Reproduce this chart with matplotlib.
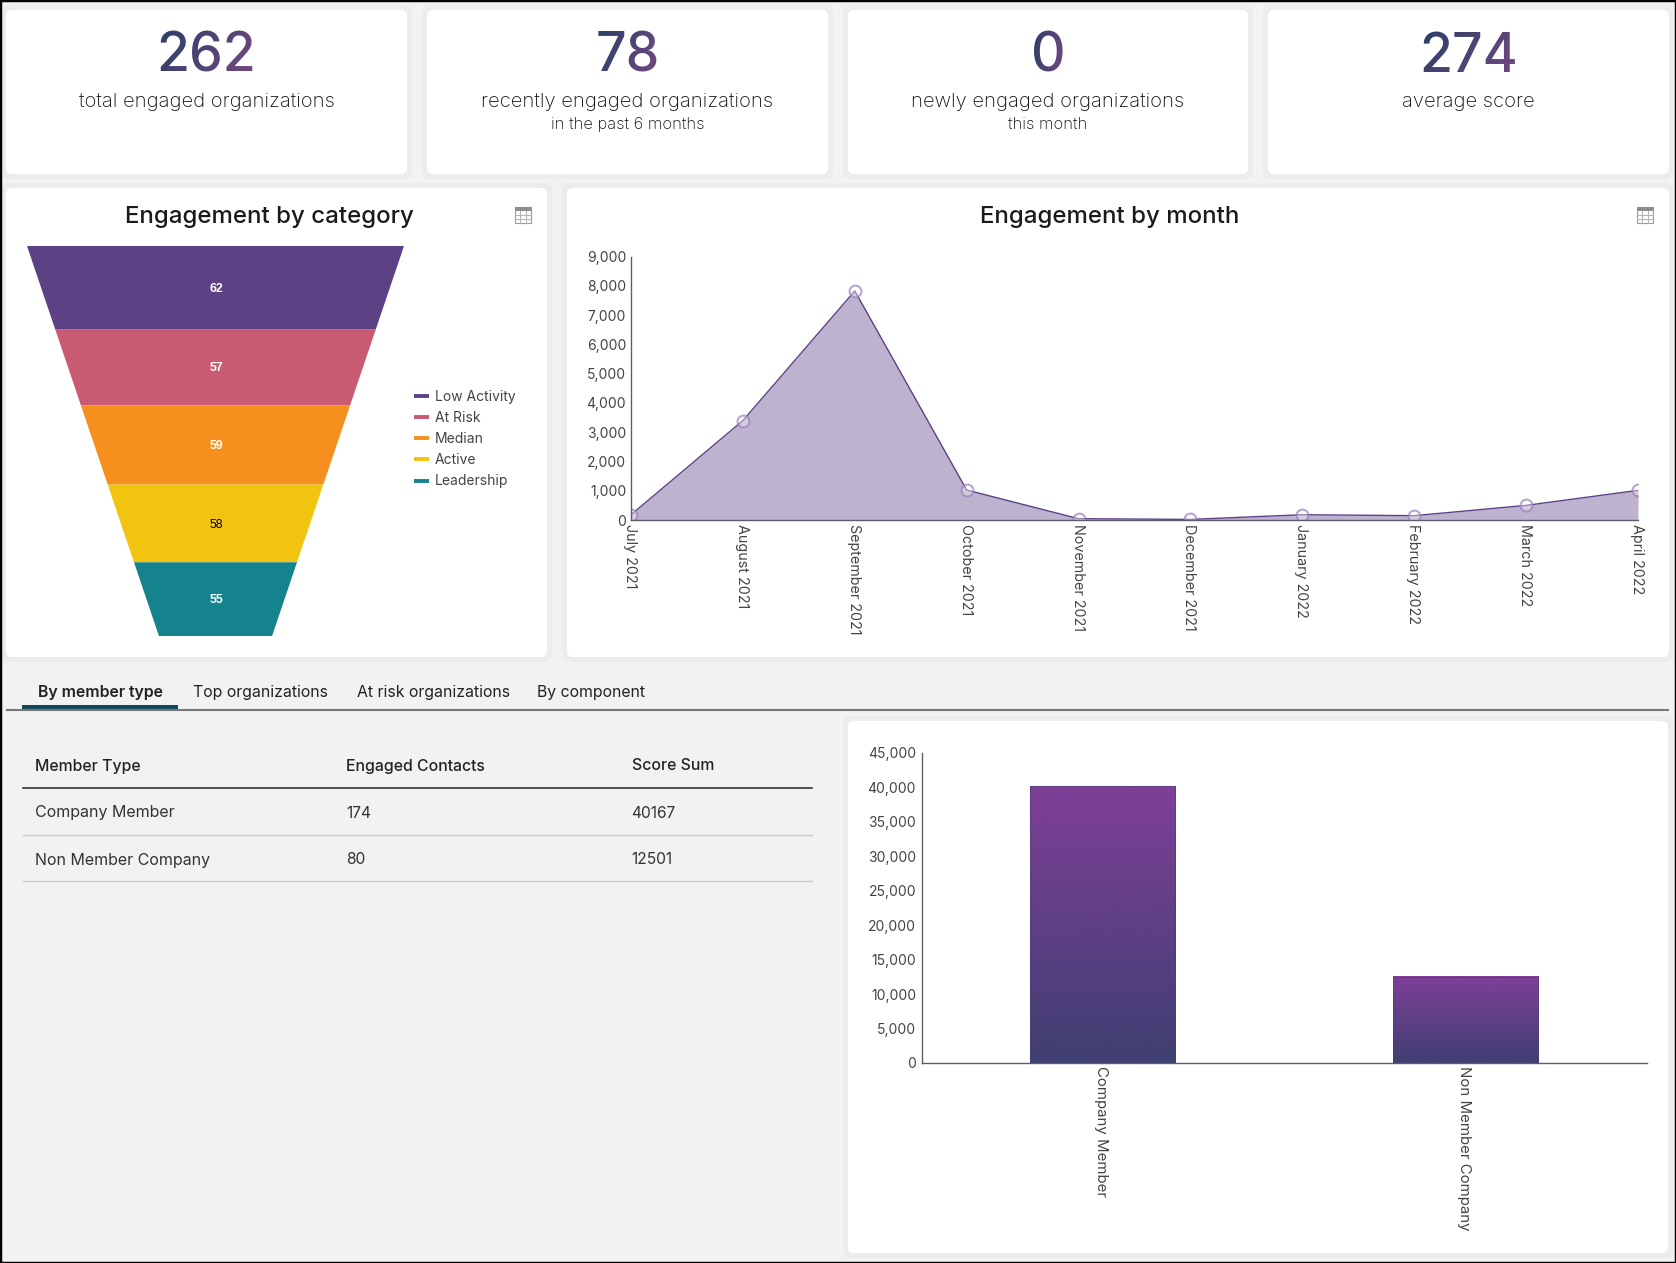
import numpy as np
import matplotlib
matplotlib.use("Agg")
import matplotlib.pyplot as plt
from matplotlib.patches import FancyBboxPatch, Rectangle
from matplotlib.lines import Line2D
from matplotlib.colors import LinearSegmentedColormap
from matplotlib.transforms import ScaledTranslation

plt.rcParams['font.family'] = ['Inter', 'DejaVu Sans']

# Summary cards
card_numbers = ['262', '78', '0', '274']
card_labels = ['total engaged organizations', 'recently engaged organizations',
               'newly engaged organizations', 'average score']
card_notes = ['', 'in the past 6 months', 'this month', '']

# Funnel
funnel_names = ['Low Activity', 'At Risk', 'Median', 'Active', 'Leadership']
funnel_values = [62, 57, 59, 58, 55]
funnel_colors = ['#5C4185', '#C85A72', '#F5901E', '#F1C40F', '#15838D']
funnel_text = ['white', 'white', 'white', 'black', 'white']

# Monthly engagement
months = ['July 2021', 'August 2021', 'September 2021', 'October 2021', 'November 2021',
          'December 2021', 'January 2022', 'February 2022', 'March 2022', 'April 2022']
month_values = [180, 3400, 7830, 1025, 45, 20, 180, 148, 500, 1013]

# Tabs and table
tabs = ['By member type', 'Top organizations', 'At risk organizations', 'By component']
table_header = ['Member Type', 'Engaged Contacts', 'Score Sum']
member_types = ['Company Member', 'Non Member Company']
engaged_contacts = [174, 80]
score_sums = [40167, 12501]

W, H = 1676, 1263
BG = '#F2F2F2'
INK = '#111111'
AXIS = '#5F5A6E'
TICK = '#444444'

fig = plt.figure(figsize=(W / 100, H / 100), dpi=100, facecolor=BG)


def ax_px(x0, y0, x1, y1):
    ax = fig.add_axes([x0 / W, 1 - y1 / H, (x1 - x0) / W, (y1 - y0) / H])
    ax.patch.set_alpha(0)
    return ax


def card(x0, y0, x1, y1):
    bg.add_patch(FancyBboxPatch((x0 - 5, y0 - 5), x1 - x0 + 10, y1 - y0 + 10,
                                boxstyle="round,pad=0,rounding_size=8", fc='#ECECEC', ec='none'))
    bg.add_patch(FancyBboxPatch((x0, y0), x1 - x0, y1 - y0,
                                boxstyle="round,pad=0,rounding_size=6", fc='white', ec='none'))


def table_icon(x0, y0):
    bg.add_patch(Rectangle((x0, y0), 16, 16, fc='white', ec='#9A9A9A', lw=0.8))
    bg.add_patch(Rectangle((x0, y0), 16, 4, fc='#8E8E8E', ec='none'))
    for d in (5.3, 10.6):
        bg.plot([x0 + d, x0 + d], [y0 + 4, y0 + 16], color='#B5B5B5', lw=0.8)
    for d in (8, 12):
        bg.plot([x0, x0 + 16], [y0 + d, y0 + d], color='#B5B5B5', lw=0.8)


def number_gradient(im, dpi):
    # recolour the rendered digits, blue at the lower left to purple at the upper right
    h, w = im.shape[:2]
    xx, yy = np.meshgrid(np.linspace(0, 1, w), np.linspace(0, 1, h))
    t = (0.8 * xx + 0.2 * yy)[..., None]
    left = np.array([0x2C, 0x40, 0x68]) / 255
    right = np.array([0x70, 0x48, 0x80]) / 255
    out = im.copy()
    out[..., :3] = left * (1 - t) + right * t
    return out, 0, 0


def shift_labels(labels, dx_px):
    # rotated labels sit a little left of the tick in the original
    for lab in labels:
        lab.set_transform(lab.get_transform() + ScaledTranslation(dx_px / 100, 0, fig.dpi_scale_trans))


bg = fig.add_axes([0, 0, 1, 1], zorder=-1)
bg.set_xlim(0, W)
bg.set_ylim(H, 0)
bg.axis('off')

# Top row of cards
card_x = [(6, 407), (427, 828), (848, 1248), (1268, 1669)]
for (x0, x1), num, lab, note in zip(card_x, card_numbers, card_labels, card_notes):
    card(x0, 10, x1, 174)
    cx = (x0 + x1) / 2
    t = bg.text(cx, 72, num, fontsize=38.5, ha='center', va='baseline', color='#4A4472',
                fontweight='medium')
    t.set_agg_filter(number_gradient)
    bg.text(cx, 102, lab, fontsize=14.55, ha='center', va='center', color=INK, fontweight='light')
    if note:
        bg.text(cx, 124.5, note, fontsize=11.9, ha='center', va='center', color=INK, fontweight='light')

# Funnel card
card(6, 188, 547, 657)
bg.text(269, 217, 'Engagement by category', fontsize=17.3, ha='center', va='center',
        color='#1A1A1A', fontweight='medium')
table_icon(515, 207)

ax = ax_px(27, 246, 404, 636)
total = sum(funnel_values)
neck = 0.3
start = 0
for val, col, tcol in zip(funnel_values, funnel_colors, funnel_text):
    end = start + val
    w0 = 1 - (1 - neck) * start / total
    w1 = 1 - (1 - neck) * end / total
    ax.fill([-w0, w0, w1, -w1], [start, start, end, end], color=col, lw=0)
    ax.annotate(str(val), (0, (start + end) / 2), xytext=(0.5, -0.8), textcoords='offset points',
                color=tcol, fontsize=8.8, ha='center', va='center', family='Liberation Sans',
                fontweight='bold' if tcol == 'white' else 'normal')
    start = end
ax.set_xlim(-1, 1)
ax.set_ylim(total, 0)
ax.axis('off')
handles = [Line2D([], [], color=c, lw=2.8, solid_capstyle='butt') for c in funnel_colors]
fig.legend(handles, funnel_names, loc='center left', bbox_to_anchor=(414 / W, 1 - 439 / H),
           frameon=False, fontsize=10, labelcolor='#444444', borderpad=0, borderaxespad=0,
           handlelength=1.08, handletextpad=0.43, labelspacing=0.52)

# Monthly area chart
card(567, 188, 1669, 657)
bg.text(1110, 217, 'Engagement by month', fontsize=17.3, ha='center', va='center',
        color='#1A1A1A', fontweight='medium')
table_icon(1637, 207)

ax = ax_px(631, 256.7, 1638, 520)
x = np.arange(len(months))
ax.fill_between(x, month_values, color='#5B4187', alpha=0.4, lw=0)
ax.plot(x, month_values, color='#5B4187', lw=1)
ax.plot(x, month_values, 'o', ms=8.5, mfc=(1, 1, 1, 0.35), mec=(0.6, 0.5, 0.74, 0.7), mew=1.5)
ax.set_xlim(0, 9)
ax.set_ylim(0, 9000)
ax.set_yticks(np.arange(0, 9001, 1000))
ax.set_yticklabels([f'{v:,}' for v in np.arange(0, 9001, 1000)])
ax.set_xticks(x)
ax.set_xticklabels(months, rotation=-90, ha='center', va='top')
ax.tick_params(length=0, labelsize=10, labelcolor=TICK, pad=3.5)
ax.tick_params(axis='x', labelsize=10.3, pad=3)
shift_labels(ax.get_xticklabels(), -1)
for s in ('top', 'right'):
    ax.spines[s].set_visible(False)
for s in ('left', 'bottom'):
    ax.spines[s].set_color(AXIS)
    ax.spines[s].set_linewidth(1)

# Tabs
tab_x = [37.5, 193, 357, 537]
for i, (tx, name) in enumerate(zip(tab_x, tabs)):
    bg.text(tx, 692, name, fontsize=11.4, ha='left', va='center', color='#222222',
            fontweight='semibold' if i == 0 else 'normal')
bg.plot([7, 1668], [710, 710], color='#777777', lw=1.5)
bg.add_patch(Rectangle((22, 705), 156, 4, fc='#0F4A5C', ec='none'))

# Table
col_x = [35, 346, 631.5]
for cx, name in zip(col_x, table_header):
    bg.text(cx, 766, name, fontsize=11.4, ha='left', va='center', color='#222222', fontweight='medium')
bg.plot([23, 812], [788, 788], color='#222222', lw=1.1)
for row_y, line_y, m, e, s in zip([813, 860], [835, 881], member_types, engaged_contacts, score_sums):
    bg.text(col_x[0], row_y, m, fontsize=11.5, ha='left', va='center', color='#333333')
    bg.text(col_x[1], row_y, str(e), fontsize=11.2, ha='left', va='center', color='#333333')
    bg.text(col_x[2], row_y, str(s), fontsize=11.2, ha='left', va='center', color='#333333')
    bg.plot([23, 812], [line_y, line_y], color='#CCCCCC', lw=1)

# Bar chart
card(848, 721, 1668, 1253)
ax = ax_px(921.6, 752.7, 1647, 1063)
bars = ax.bar(np.arange(len(member_types)), score_sums, width=0.4, color='none',
              edgecolor='#4A3A70', lw=0.4, zorder=3)
cmap = LinearSegmentedColormap.from_list('bar', ['#7F3F98', '#3F3F72'])
grad = np.linspace(0, 1, 256).reshape(-1, 1)
for b in bars:
    ax.imshow(grad, cmap=cmap, aspect='auto', zorder=2, origin='upper',
              extent=[b.get_x(), b.get_x() + b.get_width(), 0, b.get_height()])
ax.set_xlim(-0.5, 1.5)
ax.set_ylim(0, 45000)
ax.set_yticks(np.arange(0, 45001, 5000))
ax.set_yticklabels([f'{v:,}' for v in np.arange(0, 45001, 5000)])
ax.set_xticks(np.arange(len(member_types)))
ax.set_xticklabels(member_types, rotation=-90, ha='center', va='top')
ax.tick_params(length=0, labelsize=10, labelcolor=TICK, pad=4)
ax.tick_params(axis='x', labelsize=10.8, pad=2.5)
shift_labels(ax.get_xticklabels(), -2)
for s in ('top', 'right'):
    ax.spines[s].set_visible(False)
for s in ('left', 'bottom'):
    ax.spines[s].set_color(AXIS)
    ax.spines[s].set_linewidth(1)

# Screenshot border
bg.add_patch(Rectangle((0, 0), W, H, fc='none', ec='black', lw=2.5, clip_on=True))

fig.savefig('out.png', dpi=100, facecolor=BG)
